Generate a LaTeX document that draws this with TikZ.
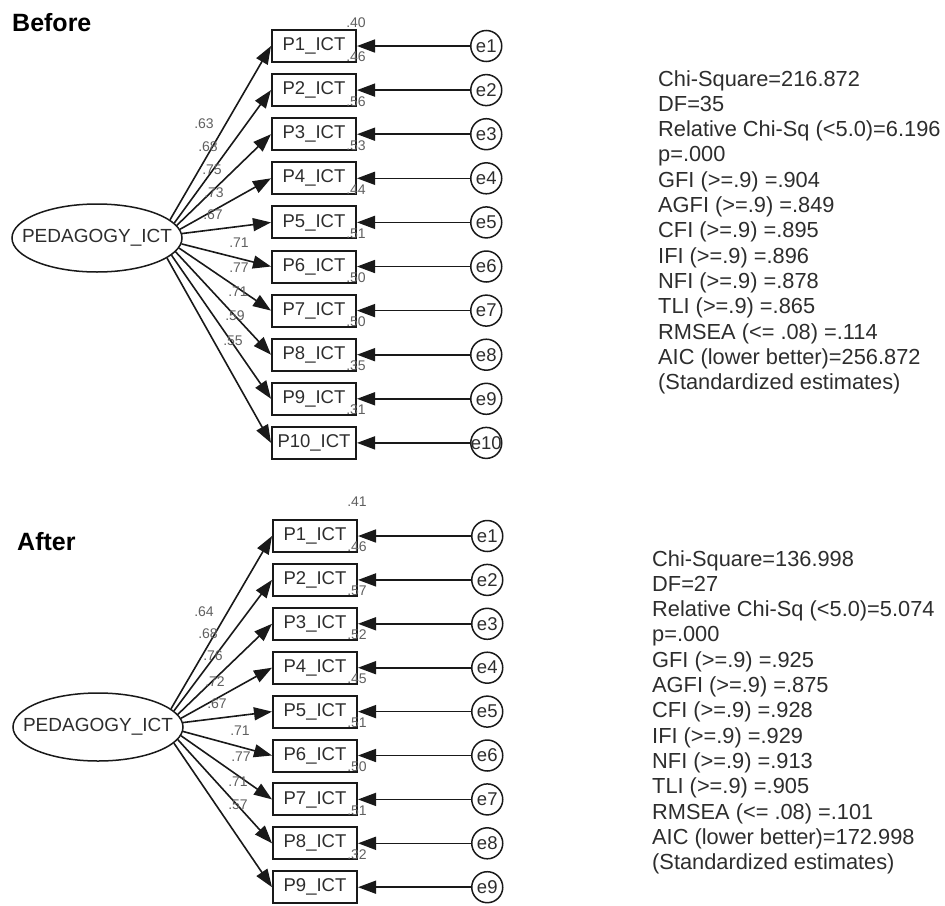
\documentclass[tikz,border=0pt]{standalone}
\usepackage{fontspec}
\setmainfont{Liberation Sans}
\usetikzlibrary{positioning,arrows.meta,shapes.geometric}
\definecolor{aLine}{RGB}{25,25,25}
\definecolor{aText}{RGB}{45,45,45}
\definecolor{aCoef}{RGB}{95,95,95}
\tikzset{
  lat/.style={ellipse, draw=aLine, line width=1.5pt, minimum width=170pt,
              minimum height=68pt, inner sep=0pt, text=aText,
              font=\fontsize{19}{20}\selectfont},
  ind/.style={rectangle, draw=aLine, line width=2pt, minimum width=84pt,
              minimum height=32pt, inner sep=0pt, text=aText,
              font=\fontsize{18.5}{20}\selectfont},
  err/.style={circle, draw=aLine, line width=1.5pt, minimum size=31pt,
              inner sep=0pt, text=aText, font=\fontsize{18.5}{20}\selectfont},
  flow/.style={-{Triangle[length=18pt,width=13pt]}, draw=aLine, line width=1.6pt},
  coef/.style={font=\fontsize{14}{15}\selectfont, text=aCoef, inner sep=0pt},
  rsq/.style={coef},
  stats/.style={align=left, anchor=north west, inner sep=0pt, text=aText,
                font=\fontsize{21.8}{25.33}\selectfont},
  ttl/.style={anchor=west, inner sep=0pt, text=black,
              font=\fontsize{25}{28}\selectfont\bfseries},
}

\begin{document}
\begin{tikzpicture}[x=1pt, y=-1pt]
  \useasboundingbox (0,0) rectangle (945,905);

  % --- before modification ---
  \node[ttl] (tbefore) at (12,23) {Before};
  \node[lat] (blat) at (97,238) {\makebox[0pt]{PEDAGOGY\_ICT}};
  \foreach \i/\ang/\ld/\lx/\ly/\rv/\rs in {
      1/14/.63/204/124/.40/6,   2/11/.68/208/147/.46/16,
      3/9/.75/212/170/.56/16,   4/6/.73/214/193/.53/16,
      5/3/.67/213/215/.44/16,   6/356/.71/239/243/.51/16,
      7/353/.77/239/268/.50/16, 8/350/.71/238/292/.50/16,
      9/347/.59/235/316/.35/16, 10/344/.55/233/341/.31/16} {
    \node[ind] (bp\i) at (314,{46+44.1*(\i-1)}) {P\i\_ICT};
    \node[err, right=113pt of bp\i] (be\i) {\makebox[0pt]{e\i}};
    \draw[flow] (be\i) -- (bp\i);
    \draw[flow] (blat.\ang) -- (bp\i.west);
    \node[coef] (bl\i) at (\lx,\ly) {\ld};
    \node[rsq] (br\i) at ([xshift=-1pt,yshift=\rs pt]bp\i.north east) {\rv};
  }
  \node[stats] (bfit) at (658,70) {Chi-Square=216.872\\
    DF=35\\
    Relative Chi-Sq (<5.0)=6.196\\
    p=.000\\
    GFI (>=.9) =.904\\
    AGFI (>=.9) =.849\\
    CFI (>=.9) =.895\\
    IFI (>=.9) =.896\\
    NFI (>=.9) =.878\\
    TLI (>=.9) =.865\\
    RMSEA (<= .08) =.114\\
    AIC (lower better)=256.872\\
    (Standardized estimates)};

  % --- after modification ---
  \node[ttl] (tafter) at (17,542) {After};
  \node[lat] (alat) at (98,727) {\makebox[0pt]{PEDAGOGY\_ICT}};
  \foreach \i/\ang/\ld/\lx/\ly/\rv/\rs in {
      1/14/.64/204/612/.41/17,  2/12/.68/208/634/.46/16,
      3/9/.76/213/656/.57/16,   4/6/.72/215/682/.52/16,
      5/3/.67/217/704/.45/16,   6/357/.71/240/731/.51/16,
      7/354/.77/241/757/.50/16, 8/351/.71/238/782/.51/16,
      9/348/.57/238/805/.32/16} {
    \node[ind] (ap\i) at (315,{536+43.9*(\i-1)}) {P\i\_ICT};
    \node[err, right=113pt of ap\i] (ae\i) {\makebox[0pt]{e\i}};
    \draw[flow] (ae\i) -- (ap\i);
    \draw[flow] (alat.\ang) -- (ap\i.west);
    \node[coef] (al\i) at (\lx,\ly) {\ld};
    \node[rsq] (ar\i) at ([xshift=-1pt,yshift=\rs pt]ap\i.north east) {\rv};
  }
  \node[stats] (afit) at (652,550) {Chi-Square=136.998\\
    DF=27\\
    Relative Chi-Sq (<5.0)=5.074\\
    p=.000\\
    GFI (>=.9) =.925\\
    AGFI (>=.9) =.875\\
    CFI (>=.9) =.928\\
    IFI (>=.9) =.929\\
    NFI (>=.9) =.913\\
    TLI (>=.9) =.905\\
    RMSEA (<= .08) =.101\\
    AIC (lower better)=172.998\\
    (Standardized estimates)};
\end{tikzpicture}
\end{document}
